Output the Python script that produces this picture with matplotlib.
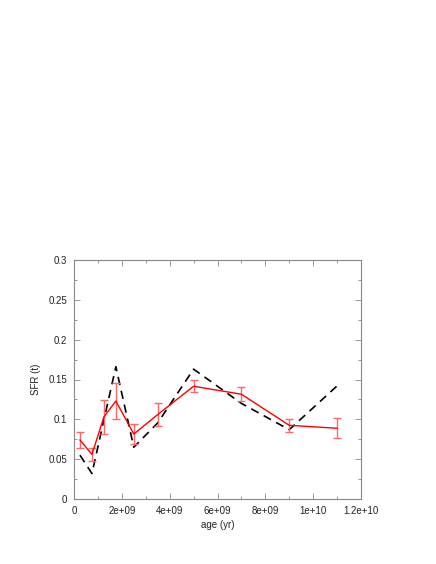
import numpy as np
import matplotlib
matplotlib.use("Agg")
import matplotlib.pyplot as plt
from matplotlib.ticker import MultipleLocator, FuncFormatter

# ages (yr)
age = [0.25e9, 0.75e9, 1.25e9, 1.75e9, 2.5e9, 3.5e9, 5.0e9, 7.0e9, 9.0e9, 11.0e9]

# recovered SFR with errors (red)
sfr_fit = [0.074, 0.056, 0.103, 0.123, 0.0815, 0.106, 0.1415, 0.1315, 0.0925, 0.0888]
sfr_err = [0.010, 0.008, 0.021, 0.023, 0.013, 0.014, 0.0075, 0.0085, 0.0085, 0.0125]

# input SFR (black dashed)
sfr_true = [0.055, 0.032, 0.099, 0.166, 0.065, 0.0955, 0.163, 0.120, 0.087, 0.142]

plt.rcParams['font.family'] = ['Liberation Sans', 'DejaVu Sans']

fig = plt.figure(figsize=(4.36, 5.64), dpi=100)
W, H = 436, 564
ax = fig.add_axes([74 / W, 1 - 499 / H, (361 - 74) / W, (499 - 260) / H])

ax.plot(age, sfr_true, color='black', lw=1.2, dashes=(5, 3.5))
ax.errorbar(age, sfr_fit, yerr=sfr_err, color='red', lw=1.0,
            ecolor='#ff6666', elinewidth=1.0, capsize=3, capthick=1.0)

ax.set_xlim(0, 1.2e10)
ax.set_ylim(0, 0.3)
ax.xaxis.set_major_locator(MultipleLocator(2e9))
ax.xaxis.set_minor_locator(MultipleLocator(1e9))
ax.yaxis.set_major_locator(MultipleLocator(0.05))
ax.yaxis.set_minor_locator(MultipleLocator(0.025))


def xfmt(v, pos):
    if v == 0:
        return "0"
    s = "%g" % v
    return s


ax.xaxis.set_major_formatter(FuncFormatter(xfmt))
ax.yaxis.set_major_formatter(FuncFormatter(lambda v, p: "%g" % v))

for sp in ax.spines.values():
    sp.set_color('#888888')
    sp.set_linewidth(0.8)
ax.tick_params(which='both', direction='in', top=True, right=True,
               color='#888888', labelsize=7, labelcolor='#222222', pad=5)
ax.tick_params(which='major', length=4, width=0.6)
ax.tick_params(which='minor', length=2, width=0.6)

ax.set_xlabel("age (yr)", fontsize=7, color='#222222', labelpad=3)
ax.set_ylabel("SFR (t)", fontsize=7, color='#222222', labelpad=5)

fig.savefig("out.png", dpi=100)
